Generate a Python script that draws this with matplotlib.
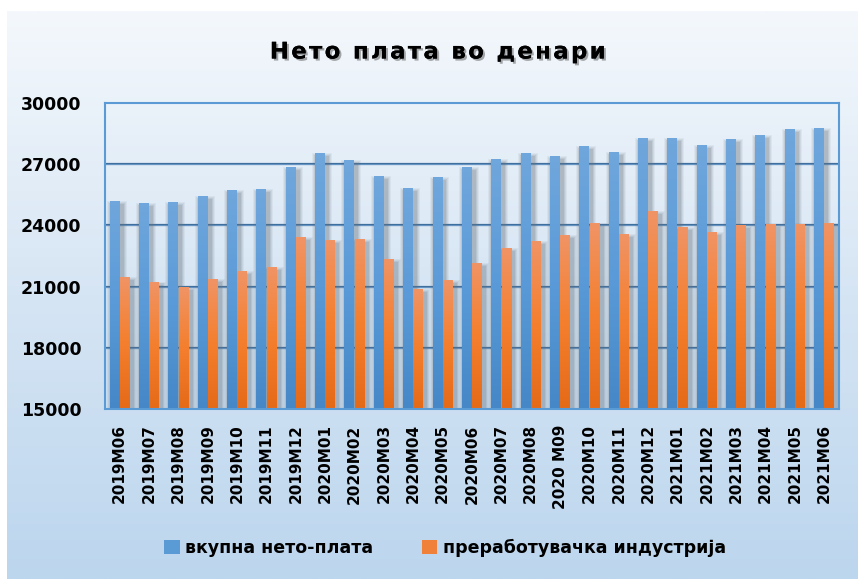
import numpy as np
import matplotlib
matplotlib.use("Agg")
import matplotlib.pyplot as plt
from matplotlib.patches import Rectangle
from matplotlib.colors import LinearSegmentedColormap
import matplotlib.patheffects as pe

categories = ["2019M06", "2019M07", "2019M08", "2019M09", "2019M10", "2019M11", "2019M12",
              "2020M01", "2020M02", "2020M03", "2020M04", "2020M05", "2020M06", "2020M07",
              "2020M08", "2020 M09", "2020M10", "2020M11", "2020M12", "2021M01", "2021M02",
              "2021M03", "2021M04", "2021M05", "2021M06"]
total = [25210, 25110, 25160, 25450, 25750, 25800, 26870, 27550, 27200, 26430, 25840, 26380,
         26870, 27260, 27550, 27400, 27900, 27600, 28290, 28290, 27950, 28240, 28430, 28730, 28780]
manuf = [21490, 21250, 21000, 21390, 21750, 21980, 23450, 23300, 23350, 22370, 20900, 21300,
         22180, 22910, 23250, 23540, 24130, 23590, 24720, 23940, 23690, 24030, 24080, 24080, 24130]
series_names = ["вкупна нето-плата", "преработувачка индустрија"]
title = "Нето плата во денари"
yticks = [15000, 18000, 21000, 24000, 27000, 30000]

W, H = 858, 579
fig = plt.figure(figsize=(W / 100, H / 100), dpi=100)
fig.patch.set_facecolor("white")

# background gradient panel
bg = fig.add_axes([7 / W, 0, 1 - 7 / W, 1 - 11 / H])
bg.set_axis_off()
bgcmap = LinearSegmentedColormap.from_list("bg", ["#bcd6ee", "#d6e5f4", "#f4f8fc"])
grad = np.linspace(0, 1, 256).reshape(-1, 1)
bg.imshow(grad, aspect="auto", cmap=bgcmap, origin="lower", extent=[0, 1, 0, 1])
bg.set_xlim(0, 1)
bg.set_ylim(0, 1)

ax = fig.add_axes([105 / W, 1 - 409 / H, (839 - 105) / W, (409 - 103) / H])
ax.patch.set_alpha(0)
ymin, ymax = 15000, 30000
ax.set_ylim(ymin, ymax)
n = len(categories)
ax.set_xlim(-0.5, n - 0.5)

for y in yticks[1:-1]:
    ax.axhline(y, color="#3f6f9c", lw=1.6, zorder=1)
    ax.axhline(y, color="#6d9bcc", lw=0.6, zorder=1.1)

bw = 0.34
off = 0.175
blue_cmap = LinearSegmentedColormap.from_list("b", ["#4587c7", "#5a9ad8", "#70a7dc"])
orange_cmap = LinearSegmentedColormap.from_list("o", ["#e56a18", "#f47f2e", "#f09466"])
px = (n) / (839 - 105)  # data units per pixel x
py = (ymax - ymin) / (409 - 103)

def shadow(x0, h):
    for k, a in [(4, 0.08), (3, 0.10), (2, 0.14), (1, 0.18)]:
        r = Rectangle((x0 + 1 * px - k * px, ymin), bw + 2 * k * px + 2 * px,
                      h - ymin - 4 * py + k * py, facecolor="#66737f", alpha=a,
                      edgecolor="none", zorder=2)
        ax.add_patch(r)

def gbar(x0, h, cmap):
    r = Rectangle((x0, ymin), bw, h - ymin, facecolor="none", edgecolor="none", zorder=3)
    ax.add_patch(r)
    im = ax.imshow(grad, aspect="auto", cmap=cmap, origin="lower",
                   extent=[x0, x0 + bw, ymin, h], zorder=3)
    im.set_clip_path(r)

for i in range(n):
    shadow(i - off - bw / 2, total[i])
    shadow(i + off - bw / 2, manuf[i])
for i in range(n):
    gbar(i - off - bw / 2, total[i], blue_cmap)
    gbar(i + off - bw / 2, manuf[i], orange_cmap)

ax.set_xlim(-0.5, n - 0.5)
ax.set_ylim(ymin, ymax)

for s in ax.spines.values():
    s.set_color("#5b9bd5")
    s.set_linewidth(1.5)
    s.set_zorder(5)

ax.set_yticks(yticks)
ax.set_yticklabels([str(v) for v in yticks], fontsize=12.5, fontweight="bold")
ax.set_xticks(range(n))
ax.set_xticklabels(categories, rotation=90, fontsize=11, fontweight="bold", va="top")
ax.tick_params(axis="y", length=0, pad=17)
ax.tick_params(axis="x", length=0, pad=11)

spaced_title = "\u200a".join(title)
fig.text(437 / W, 1 - 52 / H, spaced_title, ha="center", va="center", fontsize=16.5,
         fontweight="bold", color="black",
         path_effects=[pe.withSimplePatchShadow(offset=(1.5, -1.5), shadow_rgbFace="#555555", alpha=0.5),
                       pe.Normal()])

handles = [Rectangle((0, 0), 1, 1, facecolor="#5b9bd5", edgecolor="none"),
           Rectangle((0, 0), 1, 1, facecolor="#f0813a", edgecolor="none")]
fig.legend(handles, series_names, loc="center", bbox_to_anchor=(445 / W, 1 - 548 / H),
           ncol=2, frameon=False, handlelength=0.9, handleheight=0.9, handletextpad=0.3,
           columnspacing=2.8, prop={"weight": "bold", "size": 12.5})

fig.savefig("out.png", dpi=100)
